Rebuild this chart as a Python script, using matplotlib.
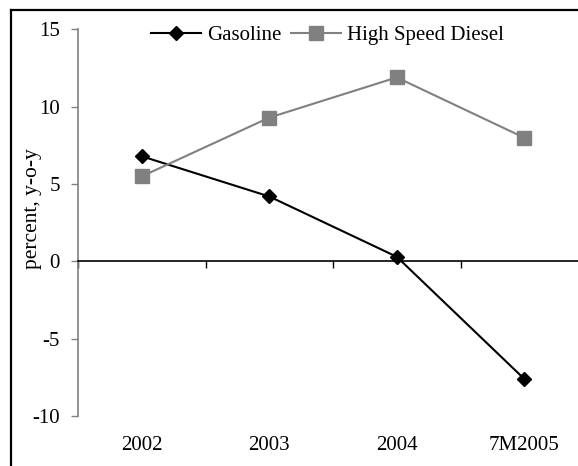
import matplotlib
matplotlib.use('Agg')
import matplotlib.pyplot as plt
from matplotlib.lines import Line2D

# datos
categorias = ['2002', '2003', '2004', '7M2005']
gasolina = [6.8, 4.2, 0.3, -7.6]
diesel = [5.5, 9.3, 11.9, 8.0]
y_ticks = [-10, -5, 0, 5, 10, 15]

plt.rcParams['font.family'] = ['Liberation Serif', 'DejaVu Serif']
plt.rcParams['font.size'] = 15

W, H = 578, 466
fig = plt.figure(figsize=(W / 100, H / 100), dpi=100)

# ejes: la derecha del grafico queda cortada fuera de la imagen
x0, x1 = 78, 588
y_top, y_bot = 29.5, 416
ax = fig.add_axes([x0 / W, 1 - y_bot / H, (x1 - x0) / W, (y_bot - y_top) / H])

x = list(range(len(categorias)))
ax.plot(x, gasolina, color='black', lw=1.5, marker='D', ms=7, label='Gasoline')
ax.plot(x, diesel, color='#808080', lw=1.5, marker='s', ms=9.5, label='High Speed Diesel')

ax.set_xlim(-0.5, 3.5)
ax.set_ylim(-10, 15)
ax.set_yticks(y_ticks)
ax.set_yticklabels([str(v) for v in y_ticks])

ax.spines['top'].set_visible(False)
ax.spines['right'].set_visible(False)
ax.spines['left'].set_color('#808080')
ax.spines['left'].set_linewidth(1.2)
ax.spines['bottom'].set_position(('data', 0))
ax.spines['bottom'].set_linewidth(1.2)

ax.tick_params(axis='y', direction='out', length=5, width=1, color='#808080', pad=8, labelsize=15)
ax.set_xticks([-0.5, 0.5, 1.5, 2.5])
ax.set_xticklabels([])
ax.tick_params(axis='x', direction='out', length=5, width=1, color='black')

# etiquetas de categoria debajo del grafico
for i, c in enumerate(categorias):
    ax.text(i, -(445 - y_bot) / (y_bot - y_top), c, transform=ax.get_xaxis_transform(),
            ha='center', va='center', fontsize=15)

fig.text(32 / W, 1 - 209 / H, 'percent, y-o-y', rotation=90, ha='center', va='center', fontsize=15.5)

fig.legend(loc='center left', bbox_to_anchor=(151 / W, 1 - 35 / H), ncol=2, frameon=False,
           handlelength=2.4, handletextpad=0.3, columnspacing=0.45, fontsize=15, borderaxespad=0,
           borderpad=0)

# marco exterior (solo lados izquierdo y superior visibles)
fig.add_artist(Line2D([11 / W, 11 / W], [0, 1 - 10 / H], color='black', lw=1.6, transform=fig.transFigure))
fig.add_artist(Line2D([11 / W, 1], [1 - 10 / H, 1 - 10 / H], color='black', lw=1.6, transform=fig.transFigure))

fig.savefig('out.png', dpi=100)
